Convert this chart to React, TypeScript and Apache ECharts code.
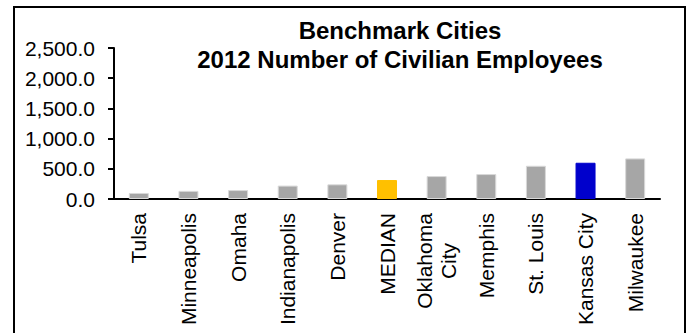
import React, { useEffect, useRef } from "react";
import * as echarts from "echarts";

const titleLines = ["Benchmark Cities", "2012 Number of Civilian Employees"];
const categories = [
  "Tulsa",
  "Minneapolis",
  "Omaha",
  "Indianapolis",
  "Denver",
  "MEDIAN",
  "Oklahoma City",
  "Memphis",
  "St. Louis",
  "Kansas City",
  "Milwaukee",
];
const values = [100, 135, 148, 222, 243, 314, 380, 413, 550, 600, 672];
const barColors = [
  "#A6A6A6",
  "#A6A6A6",
  "#A6A6A6",
  "#A6A6A6",
  "#A6A6A6",
  "#FFC000",
  "#A6A6A6",
  "#A6A6A6",
  "#A6A6A6",
  "#0000CC",
  "#A6A6A6",
];
const yMin = 0;
const yMax = 2500;
const yInterval = 500;

const FONT = "'Liberation Sans', Arial, sans-serif";

export default function App() {
  const ref = useRef<HTMLDivElement>(null);
  useEffect(() => {
    document.body.style.margin = "0";
    if (!ref.current) return;
    const chart = echarts.init(ref.current, null, { renderer: "svg" });
    chart.setOption({
      animation: false,
      backgroundColor: "#ffffff",
      title: {
        text: titleLines.join("\n"),
        left: 395,
        top: 11,
        textAlign: "center",
        textStyle: {
          fontFamily: FONT,
          fontWeight: "bold",
          fontSize: 24,
          lineHeight: 29,
          color: "#000000",
        },
      },
      graphic: [
        {
          type: "rect",
          shape: { x: 14, y: 7, width: 671, height: 400 },
          style: { fill: "none", stroke: "#000000", lineWidth: 2 },
          silent: true,
          z: 100,
        },
      ],
      grid: { left: 114, right: 28, top: 48, bottom: 134 },
      xAxis: {
        type: "category",
        data: categories,
        axisLine: { show: true, lineStyle: { color: "#000000", width: 2 } },
        axisTick: { show: false },
        axisLabel: {
          rotate: 90,
          margin: 14,
          interval: 0,
          fontFamily: FONT,
          fontSize: 21,
          color: "#000000",
          lineHeight: 24,
          formatter: (v: string) =>
            v === "Oklahoma City" ? "{c|Oklahoma}\n{c|City}" : v,
          rich: {
            c: {
              width: 96,
              align: "center",
              fontFamily: FONT,
              fontSize: 21,
              lineHeight: 24,
              color: "#000000",
            },
          },
        },
      },
      yAxis: {
        type: "value",
        min: yMin,
        max: yMax,
        interval: yInterval,
        splitLine: { show: false },
        axisLine: { show: true, lineStyle: { color: "#000000", width: 2 } },
        axisTick: { show: true, length: 6, lineStyle: { color: "#000000", width: 2 } },
        axisLabel: {
          margin: 19,
          fontFamily: FONT,
          fontSize: 21,
          color: "#000000",
          formatter: (v: number) =>
            v.toLocaleString("en-US", { minimumFractionDigits: 1, maximumFractionDigits: 1 }),
        },
      },
      series: [
        {
          type: "bar",
          barWidth: 20,
          data: values.map((v, i) => ({
            value: v,
            itemStyle: {
              color: barColors[i],
              borderColor: barColors[i] === "#A6A6A6" ? "#D9D9D9" : barColors[i],
              borderWidth: 1,
            },
          })),
        },
      ],
    });
    return () => chart.dispose();
  }, []);
  return <div ref={ref} style={{ width: 688, height: 333 }} />;
}
